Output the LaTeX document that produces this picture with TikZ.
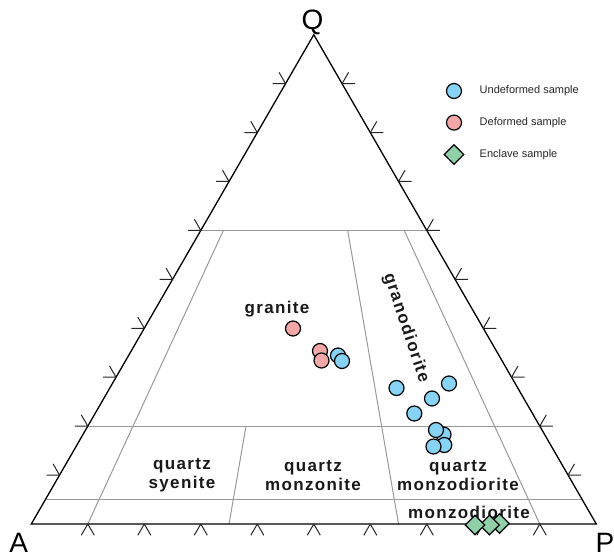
\documentclass[tikz,border=0pt]{standalone}
\usepackage{fontspec}
\setmainfont{Liberation Sans}
\newfontfamily\lblfont{Liberation Sans}[LetterSpace=8]
\usetikzlibrary{calc,shapes.geometric}
\definecolor{blueS}{HTML}{87D3F5}
\definecolor{pinkS}{HTML}{F4A7A7}
\definecolor{greenS}{HTML}{8FD0A8}
\begin{document}
\begin{tikzpicture}[x=1pt,y=-1pt,
  edge/.style={line width=1.3pt,black},
  field/.style={line width=1pt,draw=black!40},
  tickmark/.style={line width=1pt,black!85},
  rock/.style={font=\lblfont\bfseries\fontsize{17}{19.4}\selectfont,align=center,inner sep=0pt,text=black!90},
  vert/.style={font=\fontsize{28}{28}\selectfont,inner sep=0pt},
  legtext/.style={font=\fontsize{11}{13}\selectfont,anchor=west,inner sep=0pt,text=black!85},
  und/.style={circle,draw=black,line width=1.2pt,fill=blueS,minimum size=15pt,inner sep=0pt},
  dfm/.style={circle,draw=black,line width=1.2pt,fill=pinkS,minimum size=15pt,inner sep=0pt},
  enc/.style={diamond,draw=black,line width=1.2pt,fill=greenS,minimum width=20pt,minimum height=20pt,inner sep=0pt}]
\useasboundingbox (0,0) rectangle (614,554);
\coordinate (A) at (31.3,524);
\coordinate (P) at (596.3,524);
\coordinate (Q) at (313.8,34.7);
% base points for field boundaries
\coordinate (b10) at ($(A)!0.10!(P)$);
\coordinate (b35) at ($(A)!0.35!(P)$);
\coordinate (b65) at ($(A)!0.65!(P)$);
\coordinate (b90) at ($(A)!0.90!(P)$);
% field boundaries
\draw[field] ($(A)!0.6!(Q)$) -- ($(P)!0.6!(Q)$);
\draw[field] ($(A)!0.2!(Q)$) -- ($(P)!0.2!(Q)$);
\draw[field] ($(A)!0.05!(Q)$) -- ($(P)!0.05!(Q)$);
\draw[field] ($(b10)!0.6!(Q)$) -- (b10);
\draw[field] ($(b35)!0.2!(Q)$) -- (b35);
\draw[field] ($(b65)!0.6!(Q)$) -- (b65);
\draw[field] ($(b90)!0.6!(Q)$) -- (b90);
% triangle
\draw[edge,line join=miter] (A) -- (P) -- (Q) -- cycle;
% ticks
\foreach \i in {1,...,9}{
  \coordinate (L\i) at ($(A)!\i/10!(Q)$);
  \coordinate (R\i) at ($(P)!\i/10!(Q)$);
  \coordinate (B\i) at ($(A)!\i/10!(P)$);
  \draw[tickmark] (L\i) -- +(180:13) (L\i) -- +(-120:13);
  \draw[tickmark] (R\i) -- +(0:13) (R\i) -- +(-60:13);
  \draw[tickmark] (B\i) -- +(120:13) (B\i) -- +(60:13);
}
% vertex labels
\node[vert,anchor=base] (lQ) at (312.5,29.5) {Q};
\node[vert,anchor=base] (lA) at (18.8,552) {A};
\node[vert,anchor=base west] (lP) at (595.5,552) {P};
% field names
\node[rock] (granite) at (277,309) {granite};
\node[rock,rotate=-71.6] (grano) at (406,328) {granodiorite};
\node[rock] (qsy) at (182,475.5) {quartz\\syenite};
\node[rock] (qmz) at (313,475.5) {quartz\\monzonite};
\node[rock] (qmd) at (458,475.5) {quartz\\monzodiorite};
\node[rock] (mzd) at (469,512.4) {monzodiorite};
% data: deformed
\node[dfm] (d1) at (293,328.5) {};
\node[dfm] (d2) at (320,351) {};
\node[dfm] (d3) at (321.5,360.5) {};
% data: undeformed
\node[und] (u1) at (338,355.5) {};
\node[und] (u2) at (342,361) {};
\node[und] (u3) at (396.5,388) {};
\node[und] (u4) at (449,383.5) {};
\node[und] (u5) at (432,398.5) {};
\node[und] (u6) at (414.3,413.5) {};
\node[und] (u7) at (443.5,434.5) {};
\node[und] (u8) at (444.3,445) {};
\node[und] (u9) at (436,430) {};
\node[und] (u10) at (433.5,446.5) {};
% data: enclaves
\node[enc] (e3) at (499.5,523.5) {};
\node[enc] (e2) at (489.5,525) {};
\node[enc] (e1) at (475,525) {};
% legend
\node[und] (k1) at (454,91) {};
\node[dfm] (k2) at (454,122.6) {};
\node[enc] (k3) at (454,154.5) {};
\node[legtext] (t1) at (479.5,91) {Undeformed sample};
\node[legtext] (t2) at (479.5,122.6) {Deformed sample};
\node[legtext] (t3) at (479.5,154.5) {Enclave sample};
\end{tikzpicture}
\end{document}
